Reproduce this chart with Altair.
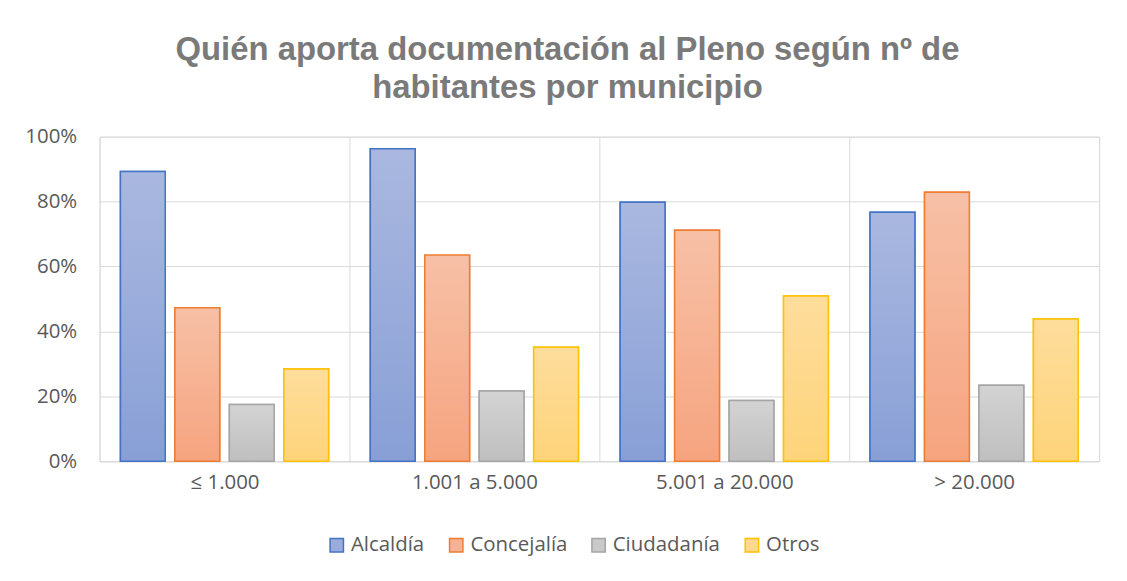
import altair as alt
import pandas as pd

categories = ["≤ 1.000", "1.001 a 5.000", "5.001 a 20.000", "> 20.000"]
series = ["Alcaldía", "Concejalía", "Ciudadanía", "Otros"]
alcaldia = [0.893, 0.963, 0.798, 0.767]
concejalia = [0.473, 0.635, 0.712, 0.829]
ciudadania = [0.175, 0.216, 0.187, 0.234]
otros = [0.284, 0.351, 0.509, 0.438]

stroke_colors = ["#4472C4", "#ED7D31", "#A5A5A5", "#FFC000"]
fill_top = ["#AAB8E0", "#F7C0A6", "#D3D3D3", "#FEDD9C"]
fill_bottom = ["#889FD6", "#F6A47F", "#BFBFBF", "#FED47A"]
fill_mid = ["#9AACDB", "#F6B293", "#C9C9C9", "#FED98B"]

values = [alcaldia, concejalia, ciudadania, otros]
rows = []
for s, vals in zip(series, values):
    for c, v in zip(categories, vals):
        rows.append({"cat": c, "series": s, "value": v})
df = pd.DataFrame(rows)

FONT = "Open Sans"
FS = 20.5
TEXT_COLOR = "#595959"

x_enc = alt.X(
    "cat:N",
    sort=categories,
    scale=alt.Scale(domain=categories, paddingInner=0, paddingOuter=0),
    axis=alt.Axis(
        title=None, labelAngle=0, tickBand="extent", grid=True, gridColor="#D9D9D9",
        domain=True, domainColor="#D9D9D9", ticks=False, labelPadding=11,
        labelFontSize=FS, labelColor=TEXT_COLOR, labelFont=FONT,
    ),
)
xo_enc = alt.XOffset(
    "series:N",
    sort=series,
    scale=alt.Scale(domain=series, paddingInner=0.177, paddingOuter=0.383),
)
y_enc = alt.Y(
    "value:Q",
    scale=alt.Scale(domain=[0, 1]),
    axis=alt.Axis(
        title=None, values=[0, 0.2, 0.4, 0.6, 0.8, 1.0], format=".0%",
        domain=False, ticks=False, gridColor="#D9D9D9", labelPadding=23,
        labelFontSize=FS, labelColor=TEXT_COLOR, labelFont=FONT,
        minExtent=87, maxExtent=87,
    ),
)

legend = alt.Legend(
    title=None, orient="none", legendX=228, legendY=400, direction="horizontal",
    symbolType="square", symbolSize=180, symbolStrokeWidth=1.5, labelFontSize=FS,
    labelColor=TEXT_COLOR, labelFont=FONT, columnPadding=21, labelOffset=4,
)

base = alt.Chart(df).mark_bar(strokeWidth=1.5).encode(
    x=x_enc, xOffset=xo_enc, y=y_enc,
    fill=alt.Fill("series:N", sort=series, scale=alt.Scale(domain=series, range=fill_mid), legend=legend),
    stroke=alt.Stroke("series:N", sort=series, scale=alt.Scale(domain=series, range=stroke_colors), legend=legend),
)

layers = [base]
for i, s in enumerate(series):
    grad = alt.LinearGradient(
        gradient="linear",
        stops=[alt.GradientStop(color=fill_top[i], offset=0), alt.GradientStop(color=fill_bottom[i], offset=1)],
        x1=0, x2=0, y1=0, y2=1,
    )
    layers.append(
        alt.Chart(df).transform_filter(alt.datum.series == s).mark_bar(
            fill=grad, stroke=stroke_colors[i], strokeWidth=1.5
        ).encode(x=x_enc, xOffset=xo_enc, y=y_enc)
    )

chart = alt.layer(*layers).properties(
    width=1004,
    height=326,
    padding={"left": 5, "top": 25, "right": 20, "bottom": 5},
    title=alt.Title(
        ["Quién aporta documentación al Pleno según nº de", "habitantes por municipio"],
        font="Liberation Sans", fontSize=33, fontWeight="bold", color="#7A7A7A",
        anchor="middle", dx=-32, lineHeight=38, offset=22,
    ),
).configure_view(stroke=None).configure(background="white")

chart.save("out.html", embed_options={"renderer": "svg", "actions": False})
